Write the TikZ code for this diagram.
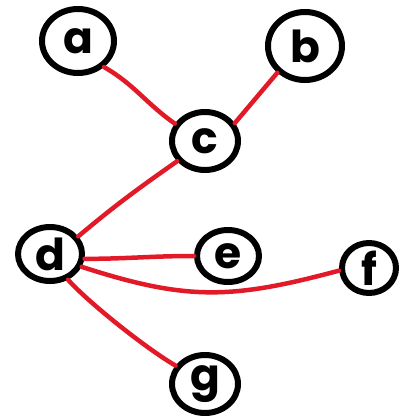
\documentclass[tikz,border=0pt]{standalone}
\usepackage{fontspec}
\setmainfont{Poppins}
\usetikzlibrary{shapes.geometric}
\definecolor{edgered}{RGB}{226,26,40}
\tikzset{
  vert/.style={ellipse, draw=black, line width=6pt, inner sep=0pt,
    font=\fontsize{44}{44}\selectfont\bfseries},
  link/.style={draw=edgered, line width=4.5pt, line cap=round}
}
\begin{document}
\begin{tikzpicture}[x=1pt,y=-1pt]
\useasboundingbox (0,0) rectangle (414,420);
\node[vert, minimum width=72pt, minimum height=64pt] (a) at (78,41) {a};
\node[vert, minimum width=74pt, minimum height=68pt] (b) at (305,46) {b};
\node[vert, minimum width=66pt, minimum height=58pt] (c) at (205,141) {c};
\node[vert, minimum width=64pt, minimum height=54pt] (d) at (50,254) {d};
\node[vert, minimum width=62pt, minimum height=52pt] (e) at (228,256) {e};
\node[vert, minimum width=54pt, minimum height=50pt] (f) at (369,268) {f};
\node[vert, minimum width=66pt, minimum height=58pt] (g) at (205,384) {g};
\draw[link] (a.-45) to[out=-30,in=145] (c.150);
\draw[link] (b.-136) -- (c.31);
\draw[link] (c.-144) to[out=-145,in=40] (d.32);
\draw[link] (d.-8) to[out=0,in=180] (e.180);
\draw[link] (d.-22) to[out=-18,in=195,looseness=1.1] (f.-175);
\draw[link] (d.-55) to[out=-48,in=150,looseness=0.6] (g.148);
\end{tikzpicture}
\end{document}
